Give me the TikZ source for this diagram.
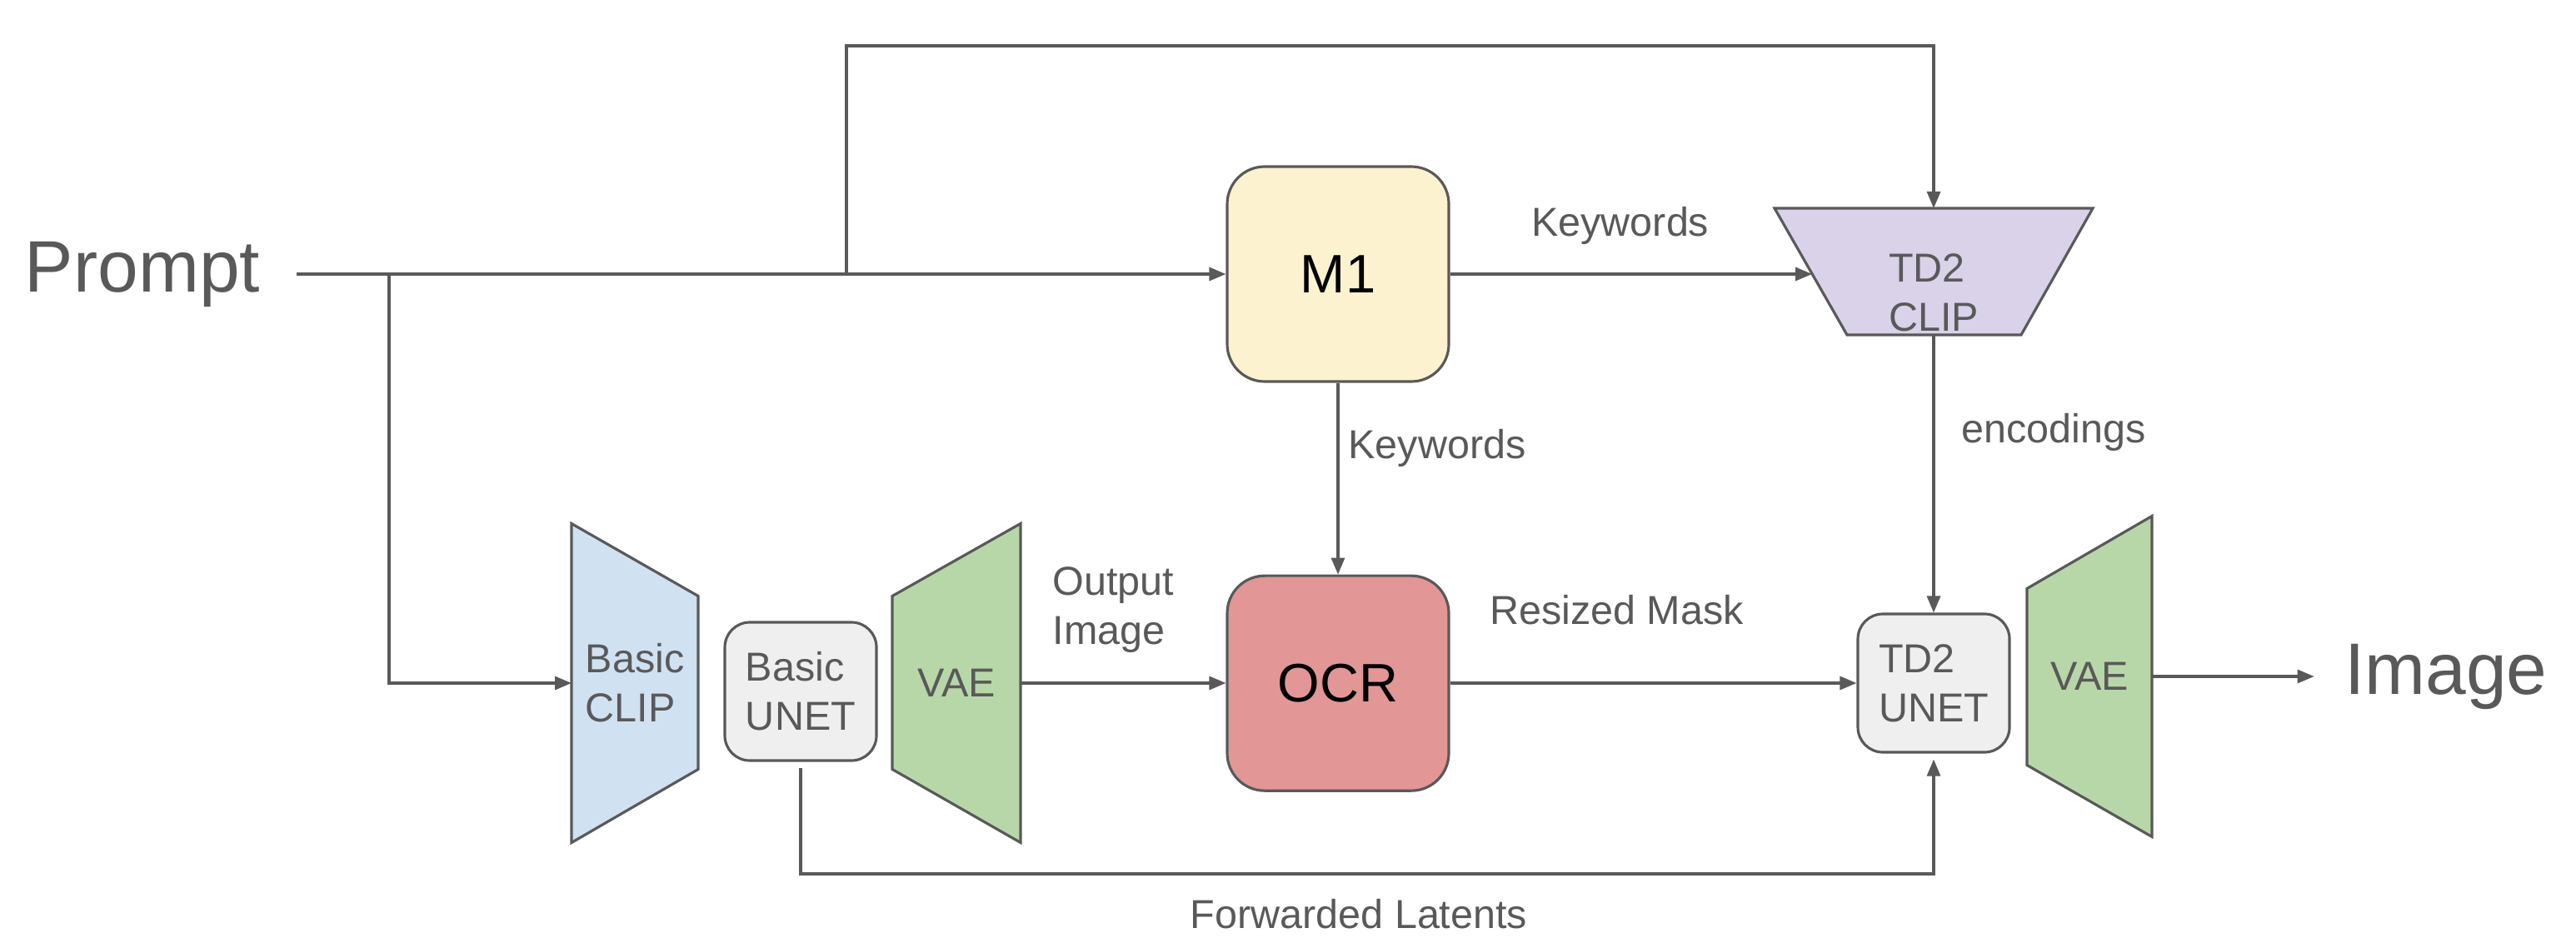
\documentclass[tikz,border=0pt]{standalone}
\usepackage{fontspec}
\setmainfont{Liberation Sans}
\usepackage{xcolor}
\usepackage{tikz}
\usetikzlibrary{arrows.meta,positioning,calc,backgrounds}
\definecolor{LineGray}{HTML}{595959}
\definecolor{BoxYellow}{HTML}{FDF2CF}
\definecolor{BoxRed}{HTML}{E29696}
\definecolor{ClipBlue}{HTML}{D0E1F2}
\definecolor{ClipPurple}{HTML}{D9D2E9}
\definecolor{VaeGreen}{HTML}{B8D7A9}
\definecolor{UnetGray}{HTML}{EFEFEF}
\tikzset{
  modelbox/.style={draw=LineGray,line width=0.9pt,rounded corners=4.5mm,minimum width=26.6mm,minimum height=25.8mm,font=\fontsize{18.5}{22}\selectfont,text=black},
  unetbox/.style={draw=LineGray,line width=0.9pt,rounded corners=3mm,fill=UnetGray,minimum width=18.2mm,minimum height=16.6mm,align=left,font=\fontsize{13.8}{16.8}\selectfont,text=LineGray},
  trapbox/.style={inner sep=0pt,outer sep=0pt,align=left,font=\fontsize{13.8}{16.8}\selectfont,text=LineGray},
  trapline/.style={draw=LineGray,line width=0.9pt,line join=miter},
  flowarrow/.style={-{Triangle[length=2mm,width=1.6mm]},line width=0.9pt,draw=LineGray},
  edgelabel/.style={font=\fontsize{13.8}{16.8}\selectfont,text=LineGray,align=left,inner sep=0pt},
  bigtext/.style={font=\fontsize{24.9}{30}\selectfont,text=LineGray,inner sep=0pt}
}

\begin{document}
\begin{tikzpicture}[node distance=23mm]
\useasboundingbox (0,0) rectangle (30.92,11.25);

\node[bigtext] (prompt) at (1.71,7.96) {Prompt};
\node[modelbox,fill=BoxYellow] (m1) at (16.06,7.96) {M1};
\node[modelbox,fill=BoxRed,below=of m1] (ocr) {OCR};

\node[trapbox,minimum width=15.2mm,minimum height=38.3mm] (bclip) at (7.62,3.05) {Basic\\CLIP};
\node[unetbox] (bunet) at (9.61,2.95) {Basic\\UNET};
\node[trapbox,minimum width=15.4mm,minimum height=38.3mm] (vae1) at (11.48,3.05) {VAE};
\node[trapbox,minimum width=38.2mm,minimum height=15.2mm,label={[trapbox,yshift=-2.5mm]center:{TD2\\CLIP}}] (tclip) at (23.21,7.99) {};
\node[unetbox] (tunet) at (23.21,3.05) {TD2\\UNET};
\node[trapbox,minimum width=15mm,minimum height=38.5mm] (vae2) at (25.08,3.13) {VAE};
\node[bigtext] (image) at (29.36,3.13) {Image};

\begin{scope}[on background layer]
\draw[trapline,fill=ClipBlue] (bclip.north west) -- ($(bclip.north east)+(0,-8.7mm)$) -- ($(bclip.south east)+(0,8.8mm)$) -- (bclip.south west) -- cycle;
\draw[trapline,fill=VaeGreen] (vae1.north east) -- ($(vae1.north west)+(0,-8.7mm)$) -- ($(vae1.south west)+(0,8.8mm)$) -- (vae1.south east) -- cycle;
\draw[trapline,fill=VaeGreen] (vae2.north east) -- ($(vae2.north west)+(0,-8.7mm)$) -- ($(vae2.south west)+(0,8.6mm)$) -- (vae2.south east) -- cycle;
\draw[trapline,fill=ClipPurple] (tclip.north west) -- (tclip.north east) -- ($(tclip.south east)+(-8.6mm,0)$) -- ($(tclip.south west)+(8.7mm,0)$) -- cycle;
\end{scope}

% prompt fan-out
\coordinate (split1) at (4.67,7.96);
\coordinate (split2) at (10.16,7.96);
\draw[flowarrow] ([xshift=4.3mm]prompt.east) -- (m1.west);
\draw[flowarrow] (split1) |- (bclip.west);
\draw[flowarrow] (split2) |- ([yshift=19.5mm]tclip.north) -- (tclip.north);

% keywords
\draw[flowarrow] (m1.east) -- ($(m1.east -| tclip.west)+(4.5mm,0)$) node[edgelabel,pos=0.47,above=3.4mm] {Keywords};
\draw[flowarrow] (m1) -- (ocr) node[edgelabel,pos=0.34,right=1.1mm] {Keywords};
\draw[flowarrow] (tclip.south) -- (tunet.north) node[edgelabel,pos=0.35,right=3.2mm] {encodings};

% lower chain
\draw[flowarrow] (vae1.east) -- (vae1.east -| ocr.west) node[edgelabel,pos=0,anchor=south west,xshift=3.7mm,yshift=3.5mm] {Output\\Image};
\draw[flowarrow] (ocr.east |- tunet.west) -- (tunet.west) node[edgelabel,pos=0.41,above=6.8mm] {Resized Mask};
\draw[flowarrow] (vae2.east) -- ([xshift=-3.6mm]image.west);

% latents
\coordinate (fwd) at (16.31,0.76);
\draw[flowarrow,shorten >=0.7mm] ([yshift=-0.7mm]bunet.south) |- (fwd) -| (tunet.south);
\node[edgelabel,below=3mm of fwd] (fwdlbl) {Forwarded Latents};
\end{tikzpicture}
\end{document}
